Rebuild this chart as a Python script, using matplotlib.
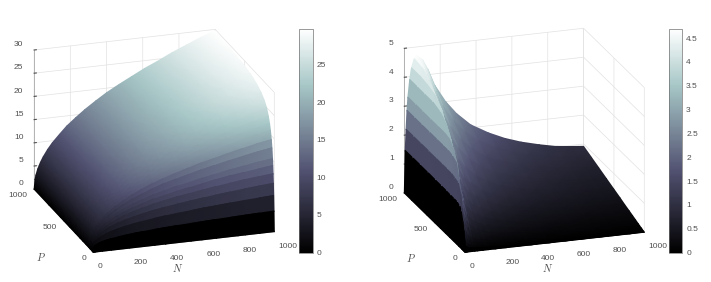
import matplotlib
matplotlib.use("Agg")
import matplotlib.pyplot as plt
import numpy as np
from matplotlib.cm import ScalarMappable
from matplotlib.colors import Normalize

left_N = [0, 5, 10, 20, 35, 50, 75, 100, 140, 180, 230, 280, 340, 400, 470, 540, 610, 680, 760, 840, 920, 1000]
left_P = [0, 5, 10, 15, 20, 25, 30, 40, 50, 65, 80, 100, 130, 170, 220, 300, 400, 550, 750, 1000]
left_Z = [
    [0] * 22,
    [0, .98, 1.22, 1.52, 1.79, 1.99, 2.23, 2.42, 2.63, 2.82, 3.03, 3.18, 3.35, 3.49, 3.63, 3.74, 3.87, 3.98, 4.09, 4.19, 4.29, 4.38],
    [0, 1.35, 1.75, 2.24, 2.72, 3.08, 3.52, 3.87, 4.29, 4.64, 5.01, 5.31, 5.64, 5.92, 6.2, 6.41, 6.67, 6.85, 7.1, 7.31, 7.47, 7.65],
    [0, 1.54, 2.04, 2.67, 3.3, 3.77, 4.37, 4.84, 5.42, 5.92, 6.42, 6.85, 7.32, 7.7, 8.1, 8.42, 8.77, 9.07, 9.4, 9.69, 9.97, 10.2],
    [0, 1.66, 2.22, 2.96, 3.69, 4.25, 4.96, 5.53, 6.22, 6.84, 7.48, 8.0, 8.59, 9.06, 9.58, 9.97, 10.4, 10.8, 11.2, 11.6, 11.9, 12.2],
    [0, 1.74, 2.35, 3.16, 3.97, 4.6, 5.4, 6.05, 6.85, 7.55, 8.29, 8.89, 9.58, 10.1, 10.7, 11.2, 11.7, 12.2, 12.7, 13.1, 13.5, 13.9],
    [0, 1.8, 2.45, 3.3, 4.19, 4.86, 5.74, 6.46, 7.34, 8.13, 8.95, 9.62, 10.4, 11, 11.7, 12.2, 12.8, 13.3, 13.9, 14.4, 14.9, 15.3],
    [0, 1.88, 2.58, 3.51, 4.48, 5.24, 6.23, 7.04, 8.06, 8.97, 9.92, 10.7, 11.6, 12.4, 13.1, 13.8, 14.5, 15.1, 15.8, 16.4, 17, 17.5],
    [0, 1.93, 2.66, 3.65, 4.69, 5.5, 6.57, 7.44, 8.56, 9.56, 10.6, 11.5, 12.5, 13.3, 14.2, 15, 15.8, 16.4, 17.2, 17.9, 18.6, 19.1],
    [0, 1.98, 2.74, 3.79, 4.89, 5.76, 6.91, 7.87, 9.09, 10.2, 11.3, 12.3, 13.4, 14.4, 15.4, 16.2, 17.1, 17.9, 18.7, 19.5, 20.3, 20.9],
    [0, 2.01, 2.8, 3.88, 5.03, 5.94, 7.15, 8.15, 9.44, 10.6, 11.8, 12.9, 14.1, 15.1, 16.2, 17.1, 18, 18.9, 19.9, 20.7, 21.5, 22.2],
    [0, 2.04, 2.85, 3.96, 5.15, 6.09, 7.37, 8.42, 9.78, 11, 12.3, 13.4, 14.7, 15.8, 16.9, 17.9, 19, 19.9, 20.9, 21.9, 22.7, 23.5],
    [0, 2.06, 2.89, 4.04, 5.27, 6.25, 7.58, 8.68, 10.1, 11.4, 12.8, 14, 15.3, 16.5, 17.7, 18.8, 19.9, 20.9, 22, 23, 24, 24.9],
    [0, 2.09, 2.93, 4.1, 5.37, 6.38, 7.75, 8.9, 10.4, 11.8, 13.2, 14.5, 15.9, 17.1, 18.4, 19.5, 20.7, 21.8, 23, 24.1, 25.1, 26],
    [0, 2.1, 2.96, 4.15, 5.45, 6.48, 7.89, 9.06, 10.6, 12, 13.5, 14.8, 16.3, 17.6, 18.9, 20.1, 21.4, 22.5, 23.7, 24.9, 25.9, 26.9],
    [0, 2.12, 2.99, 4.2, 5.52, 6.57, 8.01, 9.22, 10.8, 12.3, 13.8, 15.2, 16.7, 18, 19.4, 20.7, 22, 23.1, 24.5, 25.7, 26.8, 27.8],
    [0, 2.13, 3.0, 4.23, 5.57, 6.63, 8.1, 9.33, 10.9, 12.4, 14, 15.4, 17, 18.4, 19.8, 21.1, 22.4, 23.6, 25, 26.2, 27.4, 28.5],
    [0, 2.14, 3.02, 4.26, 5.61, 6.69, 8.18, 9.42, 11.1, 12.6, 14.2, 15.6, 17.2, 18.6, 20.1, 21.4, 22.8, 24, 25.4, 26.7, 27.9, 29],
    [0, 2.14, 3.03, 4.28, 5.64, 6.73, 8.23, 9.49, 11.1, 12.7, 14.3, 15.8, 17.4, 18.8, 20.3, 21.7, 23.1, 24.3, 25.7, 27.1, 28.3, 29.4],
    [0, 2.15, 3.04, 4.29, 5.66, 6.76, 8.26, 9.53, 11.2, 12.8, 14.4, 15.9, 17.5, 19, 20.5, 21.9, 23.3, 24.5, 26, 27.3, 28.6, 29.7],
]

right_N = [0, 5, 10, 15, 20, 30, 40, 55, 70, 100, 130, 170, 230, 290, 370, 470, 560, 650, 750, 840, 920, 1000]
right_P = [0, 10, 20, 35, 50, 75, 100, 140, 190, 250, 320, 400, 500, 620, 750, 870, 1000]
right_Z = [
    [0] * 22,
    [0, .2, .17, .14, .12, .10, .09, .08, .07, .06, .05, .036, .029, .025, .02, .017, .015, .013, .012, .01, .01, .009],
    [0, .4, .34, .28, .24, .19, .17, .15, .13, .11, .09, .072, .058, .049, .04, .034, .029, .026, .023, .021, .019, .018],
    [0, .68, .58, .48, .41, .33, .29, .25, .22, .18, .15, .126, .10, .086, .07, .059, .051, .045, .04, .036, .034, .032],
    [0, .95, .85, .7, .59, .48, .41, .35, .31, .26, .22, .18, .145, .12, .10, .084, .072, .065, .058, .052, .049, .046],
    [0, 1.25, 1.35, 1.15, .98, .78, .66, .56, .5, .41, .35, .27, .22, .18, .15, .126, .109, .097, .086, .078, .073, .069],
    [0, 1.38, 1.8, 1.55, 1.3, 1.03, .87, .72, .62, .52, .43, .36, .29, .245, .2, .168, .145, .129, .115, .104, .097, .092],
    [0, 1.44, 2.1, 2.2, 1.85, 1.45, 1.2, .98, .85, .71, .6, .5, .41, .34, .28, .235, .2, .18, .16, .146, .136, .129],
    [0, 1.45, 2.15, 2.7, 2.65, 2.05, 1.68, 1.35, 1.15, .95, .81, .68, .55, .47, .38, .32, .275, .245, .22, .2, .185, .175],
    [0, 1.45, 2.2, 2.8, 3.05, 2.65, 2.2, 1.75, 1.5, 1.22, 1.03, .9, .73, .61, .5, .42, .36, .32, .29, .26, .24, .23],
    [0, 1.46, 2.2, 2.85, 3.25, 3.2, 2.75, 2.25, 1.9, 1.55, 1.32, 1.15, .93, .78, .64, .54, .46, .41, .37, .33, .31, .29],
    [0, 1.46, 2.2, 2.85, 3.3, 3.6, 3.3, 2.8, 2.35, 1.95, 1.65, 1.44, 1.16, .98, .8, .67, .58, .52, .46, .42, .39, .37],
    [0, 1.46, 2.2, 2.85, 3.3, 3.8, 3.85, 3.4, 2.95, 2.45, 2.1, 1.8, 1.45, 1.23, 1.0, .84, .73, .65, .58, .52, .49, .46],
    [0, 1.47, 2.2, 2.85, 3.3, 3.9, 4.15, 3.95, 3.55, 3.0, 2.6, 2.23, 1.8, 1.52, 1.24, 1.04, .9, .8, .71, .64, .6, .57],
    [0, 1.47, 2.2, 2.85, 3.3, 3.9, 4.25, 4.35, 4.1, 3.6, 3.15, 2.7, 2.2, 1.85, 1.5, 1.26, 1.09, .97, .86, .78, .73, .69],
    [0, 1.47, 2.2, 2.85, 3.3, 3.9, 4.3, 4.55, 4.5, 4.15, 3.7, 3.15, 2.6, 2.2, 1.8, 1.5, 1.27, 1.13, 1.0, .9, .84, .8],
    [0, 1.47, 2.2, 2.85, 3.3, 3.9, 4.3, 4.6, 4.7, 4.55, 4.2, 3.6, 3.0, 2.55, 2.1, 1.75, 1.5, 1.31, 1.15, 1.03, .97, .92],
]

n_ticks = [0, 200, 400, 600, 800, 1000]
p_ticks = [0, 500, 1000]
left_z_ticks = [0, 5, 10, 15, 20, 25, 30]
right_z_ticks = [0, 1, 2, 3, 4, 5]
left_cb_ticks = [0, 5, 10, 15, 20, 25]
right_cb_ticks = [0, .5, 1, 1.5, 2, 2.5, 3, 3.5, 4, 4.5]
right_cb_labels = ["0", "0.5", "1", "1.5", "2", "2.5", "3", "3.5", "4", "4.5"]

W, H = 711, 282
TXT = "#505050"
plt.rcParams["font.family"] = ["Liberation Sans", "DejaVu Sans"]
plt.rcParams["mathtext.fontset"] = "cm"
plt.rcParams["font.size"] = 6


def world_to_px(ax, xs, ys, zs):
    # limits are scaled inside get_proj, so push through it directly
    m = ax.get_proj()
    pts = np.stack([np.ravel(xs), np.ravel(ys), np.ravel(zs), np.ones(np.size(xs))])
    v = m @ pts
    px = ax.transData.transform(np.column_stack([v[0] / v[3], v[1] / v[3]]))
    return px[:, 0].reshape(np.shape(xs)), px[:, 1].reshape(np.shape(xs))


def place_axes(fig, ax, origin, n_end):
    # move the square axes so the N edge lands on the wanted pixels
    for _ in range(3):
        fig.canvas.draw()
        xs, ys = world_to_px(ax, np.array([0, 1000.0]), np.array([0, 0.0]), np.array([0, 0.0]))
        got = np.hypot(xs[1] - xs[0], ys[1] - ys[0])
        want = np.hypot(n_end[0] - origin[0], n_end[1] - origin[1])
        pos = ax.get_position()
        w = pos.width * W * want / got
        cx = (pos.x0 + pos.width / 2) * W
        cy = (pos.y0 + pos.height / 2) * H
        nx = cx + (xs[0] - cx) * want / got
        ny = cy + (ys[0] - cy) * want / got
        cx += origin[0] - nx
        cy += (H - origin[1]) - ny
        ax.set_position([(cx - w / 2) / W, (cy - w / 2) / H, w / W, w / H])
    fig.canvas.draw()


def stepped(n, flat):
    # the first steps keep one colour across the facet, as in the reference
    geom, col = [], []
    for i in range(flat):
        geom += [i, i + 1]
        col += [i, i]
    geom += list(range(flat, n))
    col += list(range(flat, n))
    return np.array(geom), np.array(col)


def draw_panel(fig, N, P, Z, zlim, z_ticks, azim, elev, boxz, origin, n_end,
               flat_rows, flat_cols, pads, n_xy, p_xy):
    N = np.array(N, dtype=float)
    P = np.array(P, dtype=float)
    Z = np.array(Z, dtype=float)
    X, Y = np.meshgrid(N, P)

    ax = fig.add_axes([0.1, 0.1, 0.4, 0.4 * W / H], projection="3d", proj_type="ortho")
    ax.view_init(elev=elev, azim=azim)
    ax.set_box_aspect((1, 1, boxz))
    ax.set_xlim(0, 1000, view_margin=0)
    ax.set_ylim(0, 1000, view_margin=0)
    ax.set_zlim(0, zlim, view_margin=0)

    ax.set_xticks(n_ticks)
    ax.set_yticks(p_ticks)
    ax.set_zticks(z_ticks)
    ax.set_xticklabels([str(t) for t in n_ticks], ha="left", va="center")
    ax.set_yticklabels([str(t) for t in p_ticks], ha="right", va="center")
    ax.set_zticklabels([str(t) for t in z_ticks], ha="right", va="bottom")
    ax.zaxis.set_ticks_position("upper")

    for axis in (ax.xaxis, ax.yaxis, ax.zaxis):
        axis.set_pane_color((1, 1, 1, 0))
        axis.pane.set_edgecolor("#dcdcdc")
        axis.pane.set_linewidth(0.5)
        axis.line.set_color("#9a9a9a")
        axis.line.set_linewidth(0.5)
        axis._axinfo["grid"].update(color="#e2e2e2", linewidth=0.5)
        axis._axinfo["tick"].update(inward_factor=0.0, outward_factor=0.15)
    ax.tick_params(axis="x", colors=TXT, labelsize=6, pad=pads[0], width=0.4)
    ax.tick_params(axis="y", colors=TXT, labelsize=6, pad=pads[1], width=0.4)
    ax.tick_params(axis="z", colors=TXT, labelsize=6, pad=pads[2], width=0.4)

    place_axes(fig, ax, origin, n_end)

    # surface goes on a pixel overlay so the renderer can shade between the read values
    sx, sy = world_to_px(ax, X, Y, Z)
    r_geom, r_col = stepped(len(P), flat_rows)
    c_geom, c_col = stepped(len(N), flat_cols)
    r_geom, r_col = r_geom[::-1], r_col[::-1]
    c_geom, c_col = c_geom[::-1], c_col[::-1]
    over = fig.add_axes([0, 0, 1, 1])
    over.set_xlim(0, W)
    over.set_ylim(0, H)
    over.axis("off")
    over.pcolormesh(sx[np.ix_(r_geom, c_geom)], sy[np.ix_(r_geom, c_geom)],
                    Z[np.ix_(r_col, c_col)], shading="gouraud", cmap="bone",
                    norm=Normalize(0, Z.max()))
    over.text(n_xy[0], H - n_xy[1], "$N$", color=TXT, fontsize=7.5, ha="center", va="center")
    over.text(p_xy[0], H - p_xy[1], "$P$", color=TXT, fontsize=7.5, ha="center", va="center")
    return ax


def draw_colorbar(fig, rect, vmax, ticks, labels):
    cax = fig.add_axes([rect[0] / W, 1 - (rect[1] + rect[3]) / H, rect[2] / W, rect[3] / H])
    sm = ScalarMappable(norm=Normalize(0, vmax), cmap="bone")
    cb = fig.colorbar(sm, cax=cax)
    cb.set_ticks(ticks)
    cb.set_ticklabels(labels)
    cb.outline.set_edgecolor("#707070")
    cb.outline.set_linewidth(0.5)
    cax.tick_params(direction="in", length=0, colors=TXT, labelsize=6, pad=3)
    return cb


fig = plt.figure(figsize=(W / 100, H / 100), dpi=100, facecolor="white")

draw_panel(fig, left_N, left_P, left_Z, 30, left_z_ticks, -108.1, 20.4, 0.78,
           (93.3, 252.3), (274.3, 231.7), 8, 0, (0, -3.5, -3), (178, 268), (41, 257))
draw_panel(fig, right_N, right_P, right_Z, 5, right_z_ticks, -108.7, 19.3, 0.81,
           (465.0, 252.3), (644.3, 232.3), 1, 7, (0, -3.5, -3), (548, 268), (411, 258))

draw_colorbar(fig, (299, 28.5, 13.5, 224), 29.8, left_cb_ticks, [str(t) for t in left_cb_ticks])
draw_colorbar(fig, (669, 28.5, 13, 224), 4.7, right_cb_ticks, right_cb_labels)

fig.savefig("out.png", dpi=100)
